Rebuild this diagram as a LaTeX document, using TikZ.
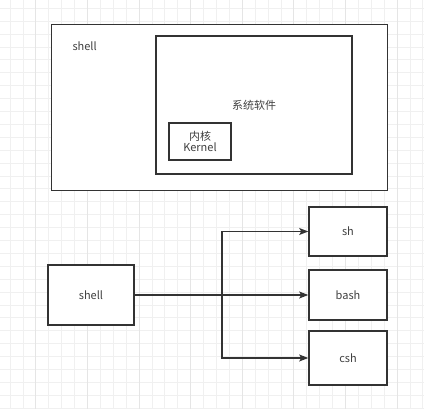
\documentclass[tikz,border=0pt]{standalone}
\usepackage{fontspec}
\setmainfont{Noto Sans CJK SC}
\usetikzlibrary{arrows.meta}
\begin{document}
\begin{tikzpicture}[x=1pt,y=-1pt,
  box/.style={draw=black!80,line width=1.6pt,fill=white,inner sep=0pt},
  lbl/.style={font=\fontsize{11}{12.5}\selectfont,text=black!75,align=center},
  conn/.style={draw=black!80,line width=1.4pt,-{Stealth[length=9pt,width=7pt,inset=2pt]}}]
\useasboundingbox (0,0) rectangle (424,409);
\fill[white] (0,0) rectangle (424,409);
% grid
\foreach \i in {0,...,33} {
  \pgfmathsetmacro\gx{9.9+12.9*\i}
  \draw[black!6,line width=0.6pt] (\gx,0) -- (\gx,409);
}
\foreach \j in {0,...,32} {
  \pgfmathsetmacro\gy{8.2+12.9*\j}
  \draw[black!6,line width=0.6pt] (0,\gy) -- (424,\gy);
}
\foreach \i in {0,...,8} {
  \pgfmathsetmacro\gx{35.7+51.6*\i}
  \draw[black!10,line width=0.6pt] (\gx,0) -- (\gx,409);
}
% top diagram
\node[box,minimum width=336pt,minimum height=166pt] (outer) at (219.5,107.5) {};
\node[lbl,anchor=west] (shelltxt) at (69,46) {shell};
\node[box,minimum width=196pt,minimum height=138pt] (inner) at (254,105) {};
\node[lbl] (sys) at (254,105) {系统软件};
\node[box,minimum width=62pt,minimum height=37pt,lbl] (kernel) at (200,141.5) {内核\\[-2pt]Kernel};
% bottom diagram
\node[box,minimum width=86pt,minimum height=60pt,lbl] (shell) at (91,295) {shell};
\node[box,minimum width=78pt,minimum height=49pt,lbl] (sh) at (348,231.5) {sh};
\node[box,minimum width=78pt,minimum height=50pt,lbl] (bash) at (348,295) {bash};
\node[box,minimum width=78pt,minimum height=54pt,lbl] (csh) at (348,358) {csh};
\coordinate (tr) at (222,295);
\draw[conn] (shell.east) -- (tr) |- (sh.west);
\draw[conn] (shell.east) -- (bash.west);
\draw[conn] (shell.east) -- (tr) |- (csh.west);
\end{tikzpicture}
\end{document}
